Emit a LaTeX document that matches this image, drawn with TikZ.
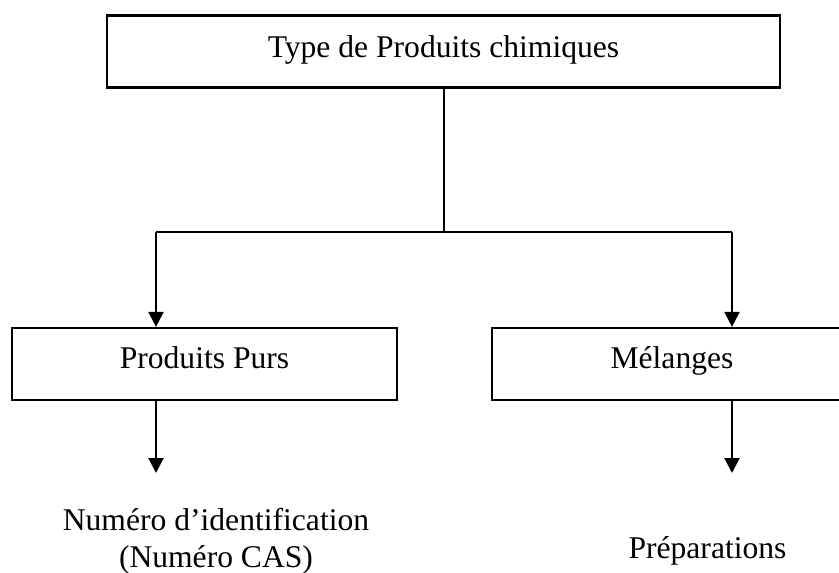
\documentclass[tikz,border=0pt]{standalone}
\usepackage{fontspec}
\setmainfont{Liberation Serif}
\usetikzlibrary{arrows.meta}
\tikzset{
  box/.style={draw, line width=2.2pt, inner sep=0pt, minimum height=72pt, text height=22pt,
    font=\fontsize{31.6}{37}\selectfont},
  lbl/.style={inner sep=0pt, anchor=base, font=\fontsize{31.6}{37}\selectfont},
  conn/.style={line width=2.2pt},
  arr/.style={line width=2.2pt, -{Triangle[width=15pt,length=15pt]}}
}
\begin{document}
\begin{tikzpicture}[x=1pt,y=-1pt]
\useasboundingbox (0,0) rectangle (839,573);
\node[box, minimum width=673pt, text depth=11pt] (top) at (443.5,51.5) {Type de Produits chimiques};
\node[box, minimum width=385pt, text depth=14pt] (pur) at (204.5,364) {Produits Purs};
\node[box, minimum width=360pt, text depth=14pt] (mel) at (672,364) {Mélanges};
\coordinate (split) at (444,232);
\coordinate (splitL) at (156,232);
\coordinate (splitR) at (732,232);
\coordinate (endL) at (156,473);
\coordinate (endR) at (732,473);
\node[lbl] (num1) at (216,530) {Numéro d’identification};
\node[lbl] (num2) at (216,567) {(Numéro CAS)};
\node[lbl] (prep) at (707.5,558) {Préparations};
\draw[conn] (top.south -| split) -- (split);
\draw[conn] (splitL) -- (splitR);
\draw[arr] (splitL) -- (splitL |- pur.north);
\draw[arr] (splitR) -- (splitR |- mel.north);
\draw[arr] (pur.south -| endL) -- (endL);
\draw[arr] (mel.south -| endR) -- (endR);
\end{tikzpicture}
\end{document}
